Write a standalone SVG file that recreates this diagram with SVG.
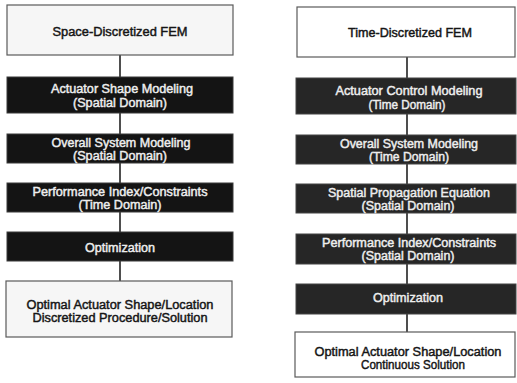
<svg xmlns="http://www.w3.org/2000/svg" width="517" height="383" viewBox="0 0 517 383">
  <style>
    .lite { fill: #f6f6f6; stroke: #5a5a5a; stroke-width: 1.2; }
    .lite2 { fill: #ffffff; stroke: #5a5a5a; stroke-width: 1.2; }
    .darkL { fill: #141414; stroke: #3a3a3a; stroke-width: 1; }
    .darkR { fill: #262626; stroke: #444; stroke-width: 1; }
    text { font-family: "Liberation Sans", Arial, sans-serif; font-size: 12.5px; text-anchor: middle; stroke-width: 0.45; }
    .tw { fill: #eeeeee; stroke: #eeeeee; }
    .tb { fill: #151515; stroke: #151515; }
    .link { stroke: #222; stroke-width: 1.6; fill: none; }
  </style>
  <rect width="517" height="383" fill="#ffffff"/>

  <!-- connectors -->
  <g id="connectors">
    <line class="link" x1="120" y1="55" x2="120" y2="281"/>
    <line class="link" x1="407" y1="57" x2="407" y2="332"/>
  </g>

  <!-- left column: space-discretized route -->
  <g id="l1">
    <rect class="lite" x="7" y="5" width="226" height="50"/>
    <text class="tb" x="120" y="36" textLength="135" lengthAdjust="spacingAndGlyphs">Space-Discretized FEM</text>
  </g>
  <g id="l2">
    <rect class="darkL" x="7" y="77" width="226" height="36"/>
    <text class="tw" x="122" y="93" textLength="142" lengthAdjust="spacingAndGlyphs">Actuator Shape Modeling</text>
    <text class="tw" x="120" y="107" textLength="94" lengthAdjust="spacingAndGlyphs">(Spatial Domain)</text>
  </g>
  <g id="l3">
    <rect class="darkL" x="7" y="134" width="226" height="29"/>
    <text class="tw" x="121" y="147" textLength="139" lengthAdjust="spacingAndGlyphs">Overall System Modeling</text>
    <text class="tw" x="120" y="160" textLength="94" lengthAdjust="spacingAndGlyphs">(Spatial Domain)</text>
  </g>
  <g id="l4">
    <rect class="darkL" x="7" y="183" width="226" height="29"/>
    <text class="tw" x="120" y="196" textLength="175" lengthAdjust="spacingAndGlyphs">Performance Index/Constraints</text>
    <text class="tw" x="120" y="209" textLength="83" lengthAdjust="spacingAndGlyphs">(Time Domain)</text>
  </g>
  <g id="l5">
    <rect class="darkL" x="7" y="232" width="226" height="29"/>
    <text class="tw" x="120" y="252" textLength="70" lengthAdjust="spacingAndGlyphs">Optimization</text>
  </g>
  <g id="l6">
    <rect class="lite" x="6" y="281" width="226" height="56"/>
    <text class="tb" x="120" y="309" textLength="187" lengthAdjust="spacingAndGlyphs">Optimal Actuator Shape/Location</text>
    <text class="tb" x="120" y="322" textLength="175" lengthAdjust="spacingAndGlyphs">Discretized Procedure/Solution</text>
  </g>

  <!-- right column: time-discretized route -->
  <g id="r1">
    <rect class="lite2" x="297" y="7" width="218" height="50"/>
    <text class="tb" x="410" y="37" textLength="124" lengthAdjust="spacingAndGlyphs">Time-Discretized FEM</text>
  </g>
  <g id="r2">
    <rect class="darkR" x="296" y="78" width="220" height="36"/>
    <text class="tw" x="409" y="95" textLength="147" lengthAdjust="spacingAndGlyphs">Actuator Control Modeling</text>
    <text class="tw" x="407" y="109" textLength="77" lengthAdjust="spacingAndGlyphs">(Time Domain)</text>
  </g>
  <g id="r3">
    <rect class="darkR" x="296" y="135" width="220" height="29"/>
    <text class="tw" x="409" y="148" textLength="138" lengthAdjust="spacingAndGlyphs">Overall System Modeling</text>
    <text class="tw" x="409" y="161" textLength="80" lengthAdjust="spacingAndGlyphs">(Time Domain)</text>
  </g>
  <g id="r4">
    <rect class="darkR" x="296" y="184" width="220" height="29"/>
    <text class="tw" x="409" y="197" textLength="162" lengthAdjust="spacingAndGlyphs">Spatial Propagation Equation</text>
    <text class="tw" x="408" y="210" textLength="93" lengthAdjust="spacingAndGlyphs">(Spatial Domain)</text>
  </g>
  <g id="r5">
    <rect class="darkR" x="296" y="234" width="220" height="30"/>
    <text class="tw" x="409" y="247" textLength="174" lengthAdjust="spacingAndGlyphs">Performance Index/Constraints</text>
    <text class="tw" x="408" y="260" textLength="93" lengthAdjust="spacingAndGlyphs">(Spatial Domain)</text>
  </g>
  <g id="r6">
    <rect class="darkR" x="296" y="284" width="220" height="30"/>
    <text class="tw" x="408" y="302" textLength="70" lengthAdjust="spacingAndGlyphs">Optimization</text>
  </g>
  <g id="r7">
    <rect class="lite2" x="295" y="332" width="220" height="45"/>
    <text class="tb" x="408" y="356" textLength="187" lengthAdjust="spacingAndGlyphs">Optimal Actuator Shape/Location</text>
    <text class="tb" x="413" y="369" textLength="104" lengthAdjust="spacingAndGlyphs">Continuous Solution</text>
  </g>
</svg>
